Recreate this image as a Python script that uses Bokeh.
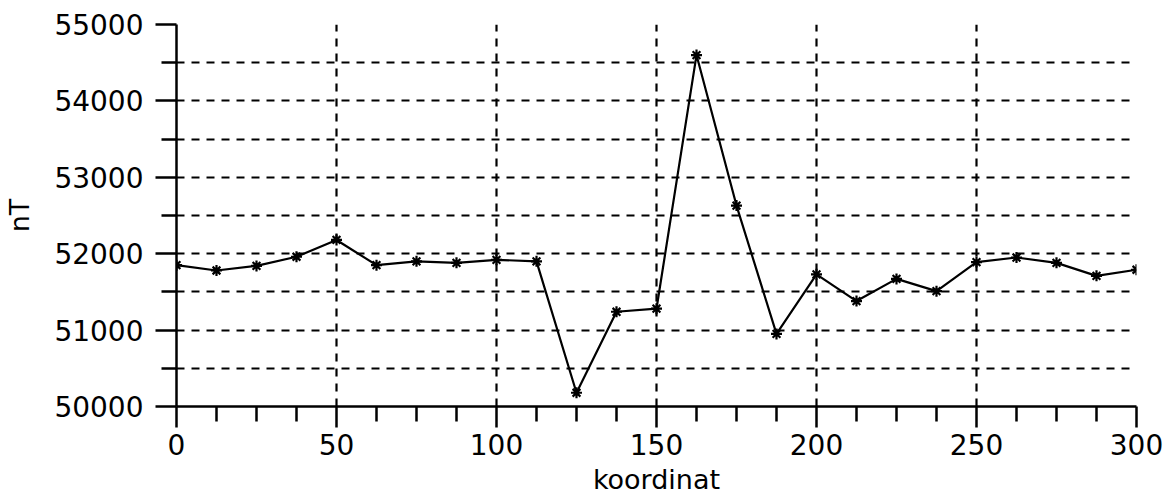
from bokeh.plotting import figure
from bokeh.models import Range1d, FixedTicker
from bokeh.embed import file_html
from bokeh.resources import INLINE

# Magnetic total-field profile along the survey line
koordinat = [0, 12.5, 25, 37.5, 50, 62.5, 75, 87.5, 100, 112.5, 125, 137.5,
             150, 162.5, 175, 187.5, 200, 212.5, 225, 237.5, 250, 262.5,
             275, 287.5, 300]
nT = [51850, 51780, 51840, 51960, 52180, 51850, 51900, 51880, 51920, 51900,
      50180, 51240, 51280, 54600, 52630, 50950, 51730, 51380, 51670, 51510,
      51890, 51950, 51880, 51710, 51790]

x_major = [0, 50, 100, 150, 200, 250, 300]
x_minor = [12.5, 25, 37.5, 62.5, 75, 87.5, 112.5, 125, 137.5, 162.5, 175,
           187.5, 212.5, 225, 237.5, 262.5, 275, 287.5]
y_major = [50000, 51000, 52000, 53000, 54000, 55000]
y_minor = [50500, 51500, 52500, 53500, 54500]
y_grid = [50000, 50500, 51000, 51500, 52000, 52500, 53000, 53500, 54000,
          54500, 55000]

FONT = "DejaVu Sans"

p = figure(width=1167, height=497, output_backend="svg", toolbar_location=None,
           x_range=Range1d(0, 300), y_range=Range1d(50000, 55000),
           min_border_left=176, min_border_right=31, min_border_top=24,
           min_border_bottom=91)
p.outline_line_color = None
p.background_fill_color = "white"
p.border_fill_color = "white"

p.xaxis.ticker = FixedTicker(ticks=x_major, minor_ticks=x_minor)
p.yaxis.ticker = FixedTicker(ticks=y_major, minor_ticks=y_minor)
p.xgrid.ticker = FixedTicker(ticks=x_major)
p.ygrid.ticker = FixedTicker(ticks=y_grid)

for g in (p.xgrid, p.ygrid):
    g.grid_line_color = "black"
    g.grid_line_alpha = 1.0
    g.grid_line_width = 2.2
    g.grid_line_dash = "8 7"

for ax in (p.xaxis, p.yaxis):
    ax.axis_line_color = "black"
    ax.axis_line_width = 2.5
    ax.major_tick_line_color = "black"
    ax.major_tick_line_width = 2.5
    ax.minor_tick_line_color = "black"
    ax.minor_tick_line_width = 2.5
    ax.major_tick_in = 0
    ax.minor_tick_in = 0
    ax.major_tick_out = 21
    ax.minor_tick_out = 15
    ax.major_label_text_font = FONT
    ax.major_label_text_font_size = "28px"
    ax.major_label_text_color = "black"
    ax.axis_label_text_font = FONT
    ax.axis_label_text_font_size = "27px"
    ax.axis_label_text_font_style = "normal"
    ax.axis_label_text_color = "black"

p.xaxis.axis_label = "koordinat"
p.yaxis.axis_label = "nT"
p.xaxis.major_label_standoff = 6
p.xaxis.axis_label_standoff = 6
p.yaxis.major_label_standoff = 12
p.yaxis.axis_label_standoff = 16
p.yaxis.major_label_orientation = "horizontal"

p.line(koordinat, nT, line_color="black", line_width=2.2)
p.scatter(koordinat, nT, marker="asterisk", size=11, line_color="black",
          line_width=2.2)

open("out.html", "w").write(file_html(p, INLINE))
